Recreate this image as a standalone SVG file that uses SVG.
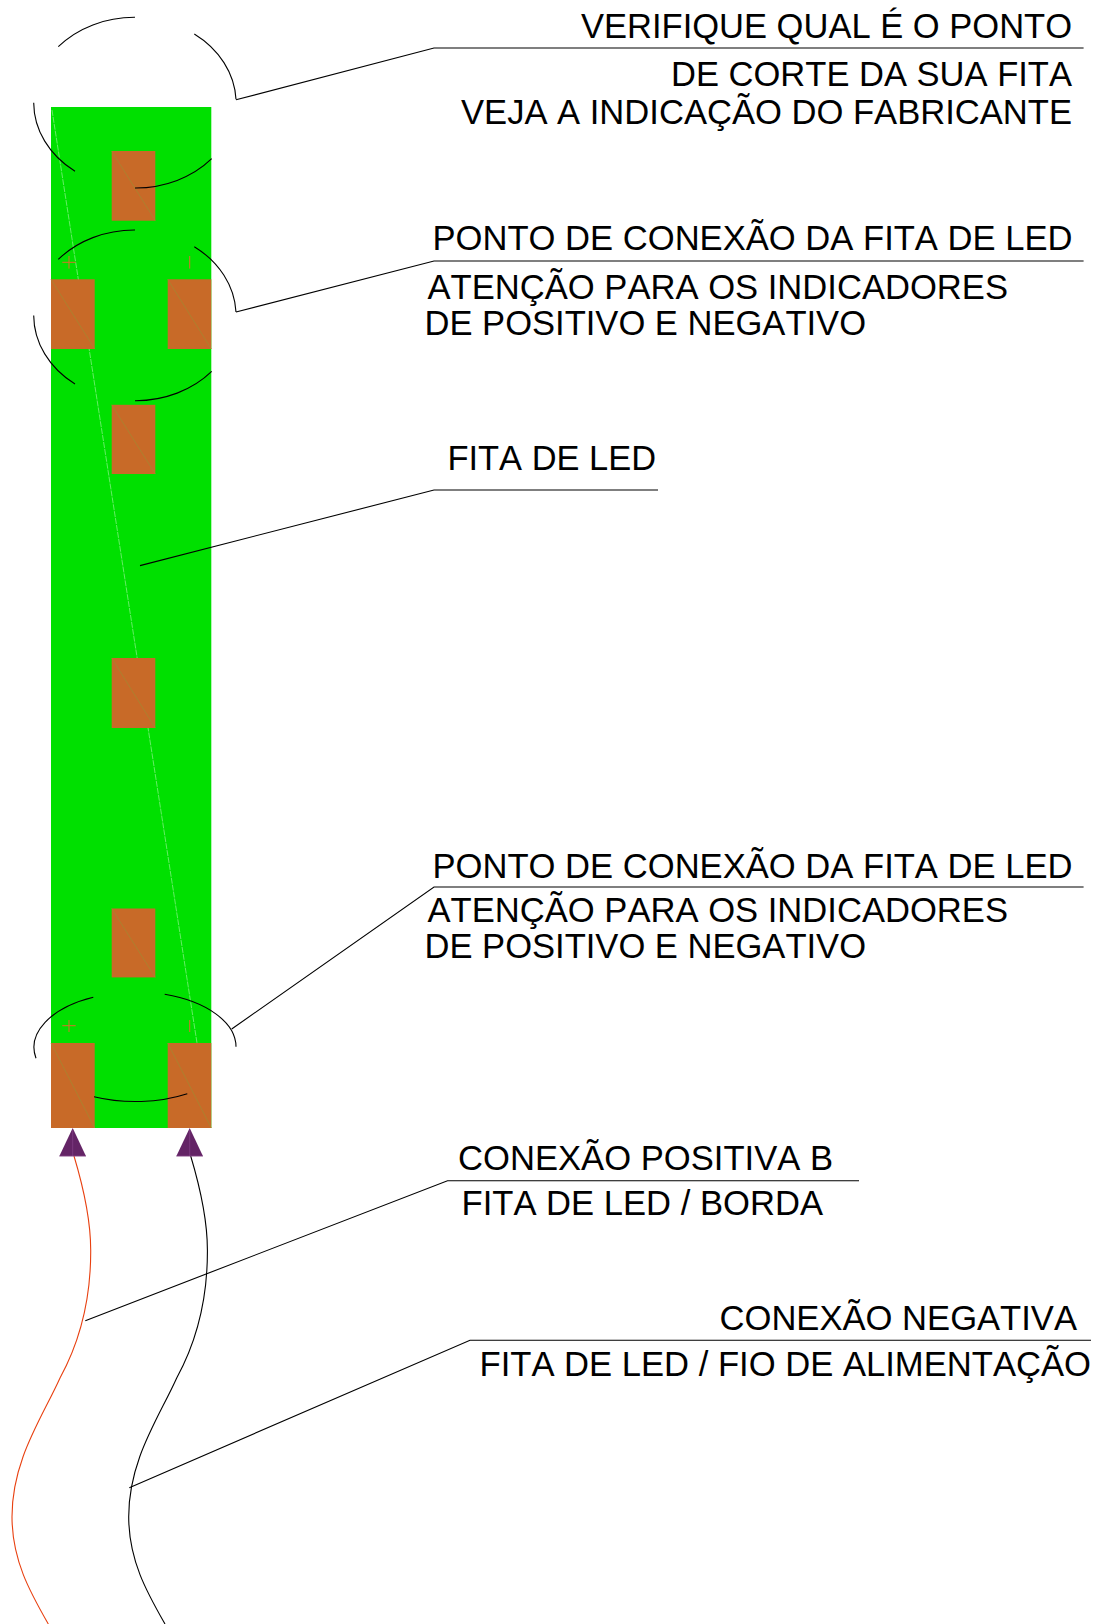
<svg xmlns="http://www.w3.org/2000/svg" width="1097" height="1624" viewBox="0 0 1097 1624">
<style>
.k{fill:none;stroke:#000;stroke-width:1.1}
.t{font-family:"Liberation Sans",Arial,sans-serif;font-size:35px;fill:#000;text-anchor:start;font-kerning:none}
.p{fill:#c86a28}
.d{fill:none;stroke:#a08a30;stroke-width:.7}
.m{fill:none;stroke:#d8702a;stroke-width:1}
.a{fill:#642466}
.b{fill:none;stroke:#8c4a90;stroke-width:.8}
</style>
<rect width="1097" height="1624" fill="#fff"/>
<g id="strip"><rect x="51" y="107" width="160.300" height="1021" fill="#00e000"/><path d="M52 110L197 1043" fill="none" stroke="#7df07d" stroke-width=".8" stroke-dasharray="6 1"/></g>
<g id="pads">
<g id="pad1"><rect class="p" x="111.700" y="151" width="43.600" height="69.700"/><path class="d" d="M111.700 151L155.300 220.700"/></g>
<g id="pad2"><rect class="p" x="51" y="279.300" width="43.700" height="69.700"/><path class="d" d="M51 279.300L94.700 349"/></g>
<g id="pad3"><rect class="p" x="167.700" y="279.300" width="43.600" height="69.700"/><path class="d" d="M167.700 279.300L211.300 349"/></g>
<g id="pad4"><rect class="p" x="111.700" y="404.800" width="43.600" height="69.200"/><path class="d" d="M111.700 404.800L155.300 474"/></g>
<g id="pad5"><rect class="p" x="111.700" y="658" width="43.600" height="70"/><path class="d" d="M111.700 658L155.300 728"/></g>
<g id="pad6"><rect class="p" x="111.700" y="908.500" width="43.600" height="68.900"/><path class="d" d="M111.700 908.500L155.300 977.400"/></g>
<g id="pad7"><rect class="p" x="51" y="1043" width="43.700" height="85"/><path class="d" d="M51 1043L94.700 1128"/></g>
<g id="pad8"><rect class="p" x="167.700" y="1043" width="43.600" height="85"/><path class="d" d="M167.700 1043L211.300 1128"/></g>
</g>
<g id="marks">
<path class="m" d="M62.300 262.300H75.700M69 256V268.600M189.700 256V268.600"/>
<path class="m" d="M62.300 1025.700H75.700M69 1020V1032M189.700 1020V1032"/>
</g>
<g id="connectors">
<path class="k" d="M58.300 46.700A101 85.500 0 0 1 135 17.300M194.300 34A101 85.500 0 0 1 236 99.300M33.700 102.700A101 85.500 0 0 0 75 171.300M135 188A101 85.500 0 0 0 211.700 158.700"/>
<path class="k" d="M58.300 259.400A101 85.500 0 0 1 135 230M194.300 246.700A101 85.500 0 0 1 236 312M33.700 315.400A101 85.500 0 0 0 75 384M135 400.700A101 85.500 0 0 0 211.700 371.400"/>
<path class="k" d="M36 1058.300A101 55 0 0 1 93.300 997.300M164.700 994.300A101 55 0 0 1 236 1046.700M94 1096.700A101 55 0 0 0 187.300 1093.700"/>
<path class="k" d="M236 99.800L434 48H1083.600"/>
<path class="k" d="M236 312L434 261H1083.600"/>
<path class="k" d="M140 565.600L434 490H658"/>
<path class="k" d="M231.700 1029L434 887H1083.600"/>
<path class="k" d="M85.300 1320.700L447.500 1180.700H859"/>
<path class="k" d="M129.300 1487.700L470 1340.200H1091"/>
<path d="M74 1156C83 1186 90.700 1220 90.700 1250C91 1305 78 1345 60 1378C42 1418 12 1460 12 1516.700C12 1560 30 1592 48.300 1624" fill="none" stroke="#e84010" stroke-width="1.100"/>
<path class="k" d="M190.700 1156C199.700 1186 207.400 1220 207.400 1250C207.700 1305 194.700 1345 176.700 1378C158.700 1418 128.700 1460 128.700 1516.700C128.700 1560 146.700 1592 165 1624"/>
</g>
<g id="arrows">
<g id="arrow-left"><path class="a" d="M72.700 1128L86 1156.300H59.300Z"/><path class="b" d="M59.300 1156H86M72.700 1130V1156" stroke-opacity=".7"/></g>
<g id="arrow-right"><path class="a" d="M189.700 1128L203 1156.300H176.300Z"/><path class="b" d="M176.300 1156H203M189.700 1130V1156" stroke-opacity=".7"/></g>
</g>
<g id="labels">
<text class="t" x="581" y="38" textLength="491" lengthAdjust="spacingAndGlyphs">VERIFIQUE QUAL É O PONTO</text>
<text class="t" x="671" y="86" textLength="401" lengthAdjust="spacingAndGlyphs">DE CORTE DA SUA FITA</text>
<text class="t" x="461" y="124" textLength="611" lengthAdjust="spacingAndGlyphs">VEJA A INDICAÇÃO DO FABRICANTE</text>
<text class="t" x="432.500" y="250" textLength="640" lengthAdjust="spacingAndGlyphs">PONTO DE CONEXÃO DA FITA DE LED</text>
<text class="t" x="427.500" y="299" textLength="580.500" lengthAdjust="spacingAndGlyphs">ATENÇÃO PARA OS INDICADORES</text>
<text class="t" x="424.500" y="334.500" textLength="441.500" lengthAdjust="spacingAndGlyphs">DE POSITIVO E NEGATIVO</text>
<text class="t" x="447.500" y="470" textLength="208.500" lengthAdjust="spacingAndGlyphs">FITA DE LED</text>
<text class="t" x="432.500" y="878" textLength="640" lengthAdjust="spacingAndGlyphs">PONTO DE CONEXÃO DA FITA DE LED</text>
<text class="t" x="427.500" y="922" textLength="580.500" lengthAdjust="spacingAndGlyphs">ATENÇÃO PARA OS INDICADORES</text>
<text class="t" x="424.500" y="957.500" textLength="441.500" lengthAdjust="spacingAndGlyphs">DE POSITIVO E NEGATIVO</text>
<text class="t" x="458" y="1170" textLength="375" lengthAdjust="spacingAndGlyphs">CONEXÃO POSITIVA B</text>
<text class="t" x="461.500" y="1215" textLength="361.500" lengthAdjust="spacingAndGlyphs">FITA DE LED / BORDA</text>
<text class="t" x="719.500" y="1330" textLength="357.500" lengthAdjust="spacingAndGlyphs">CONEXÃO NEGATIVA</text>
<text class="t" x="479.500" y="1376" textLength="611.500" lengthAdjust="spacingAndGlyphs">FITA DE LED / FIO DE ALIMENTAÇÃO</text>
</g>
</svg>
